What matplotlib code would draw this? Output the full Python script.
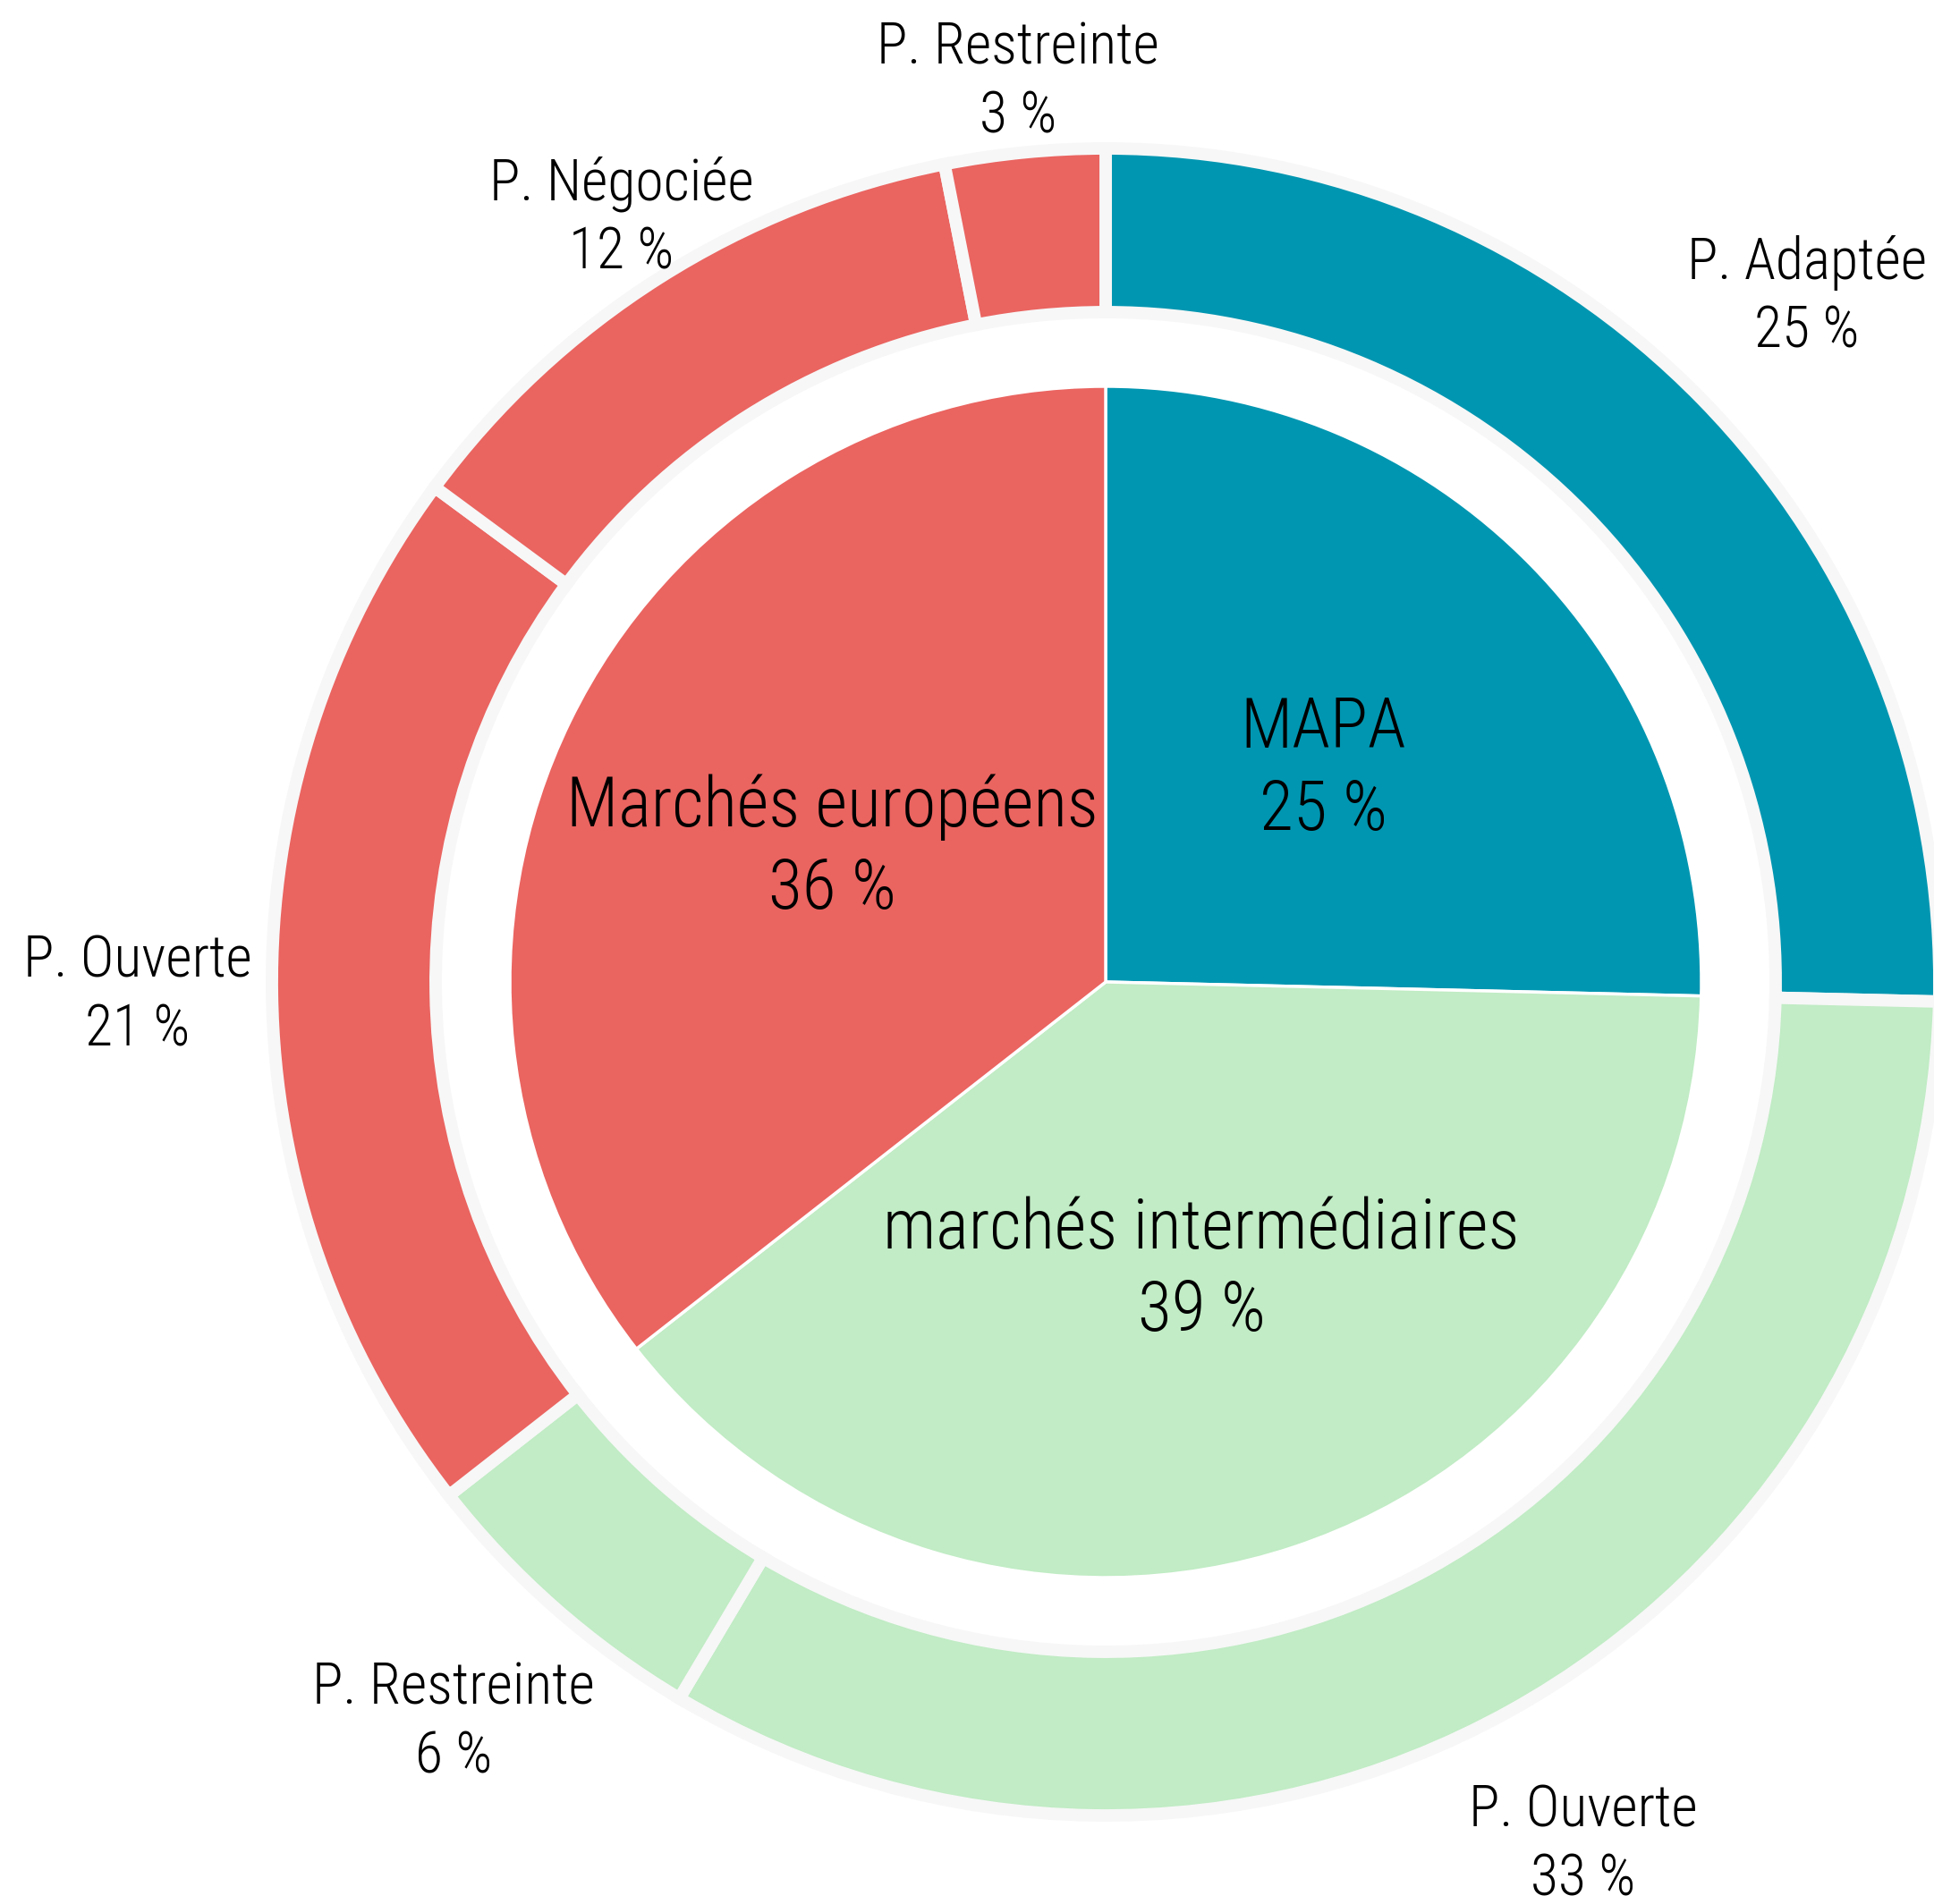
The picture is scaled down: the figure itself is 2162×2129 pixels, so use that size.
import numpy as np
import matplotlib
matplotlib.use("Agg")
import matplotlib.pyplot as plt

plt.rcParams['font.family'] = ['Liberation Sans Narrow', 'Roboto Condensed', 'DejaVu Sans']

# inner ring (types de marchés)
inner_names = ['MAPA', 'marchés intermédiaires', 'Marchés européens']
inner_vals = [25.4, 39.1, 35.6]
inner_colors = ['#0096b1', '#c1ecc5', '#ea6460']

# outer ring (procédures)
outer_names = ['P. Adaptée', 'P. Ouverte', 'P. Restreinte', 'P. Ouverte', 'P. Négociée', 'P. Restreinte']
outer_vals = [25.4, 33.2, 5.9, 20.7, 11.8, 3.1]
outer_colors = ['#0096b1', '#c1ecc5', '#c1ecc5', '#ea6460', '#ea6460', '#ea6460']

# layout (pixels)
W, H = 2162, 2129
cx, cy = 1236, H - 1098
R_out, ring_w = 932, 183
R_in = 666
outer_label_r = [1096, 1103, 1103, 1082, 1011, 1011]

fig = plt.figure(figsize=(W / 100, H / 100), dpi=100)
ax = fig.add_axes([0, 0, 1, 1])

ax.pie(outer_vals, radius=R_out, center=(cx, cy), startangle=90, counterclock=False,
       colors=outer_colors,
       wedgeprops=dict(width=ring_w, edgecolor='#f7f7f7', linewidth=10))
ax.pie(inner_vals, radius=R_in, center=(cx, cy), startangle=90, counterclock=False,
       colors=inner_colors,
       wedgeprops=dict(edgecolor='white', linewidth=2.5))

ax.set_xlim(0, W)
ax.set_ylim(0, H)
ax.set_aspect('equal')
ax.axis('off')


def mid_angles(vals):
    v = np.array(vals, dtype=float)
    frac = v / v.sum()
    cum = np.cumsum(frac) - frac / 2
    return np.radians(cum * 360)  # clockwise from top


# inner labels
for name, v, a in zip(inner_names, inner_vals, mid_angles(inner_vals)):
    r = 0.51 * R_in
    ax.text(cx + r * np.sin(a), cy + r * np.cos(a), f"{name}\n{round(v)} %",
            ha='center', va='center', fontsize=56, linespacing=1.3,
            fontweight='light', color='black')

# outer labels
for name, v, a, r in zip(outer_names, outer_vals, mid_angles(outer_vals), outer_label_r):
    ax.text(cx + r * np.sin(a), cy + r * np.cos(a), f"{name}\n{round(v)} %",
            ha='center', va='center', fontsize=46, linespacing=1.3,
            fontweight='light', color='black')

fig.savefig('out.png', dpi=100, facecolor='white')
